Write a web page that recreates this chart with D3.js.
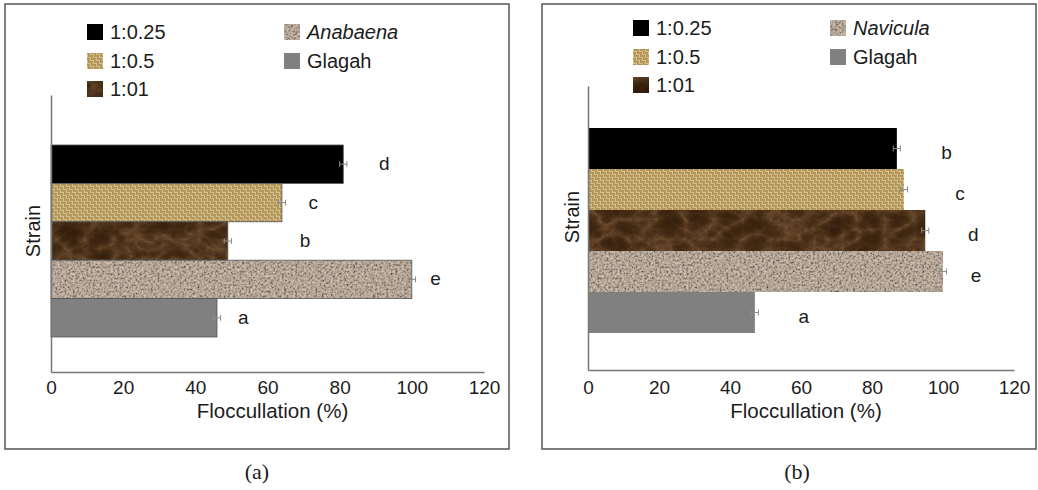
<!DOCTYPE html>
<html>
<head>
<meta charset="utf-8">
<script src="https://cdn.jsdelivr.net/npm/d3@7/dist/d3.min.js"></script>
<style>
    body { margin: 0; background: #fff; }
    svg { display: block; }
    text { font-family: "Liberation Sans", Arial, sans-serif; fill: #1c1c1c; }
</style>
</head>
<body>
<div id="chart"></div>
<script>
// values
let xTicks = [0, 20, 40, 60, 80, 100, 120];
let ratios = ['1:0.25', '1:0.5', '1:01'];

let strainsA = ['1:0.25', '1:0.5', '1:01', 'Anabaena', 'Glagah'];
let flocA = [81, 64, 49, 100, 46];
let errA = [1, 1, 1, 1, 1];
let lettersA = ['d', 'c', 'b', 'e', 'a'];

let strainsB = ['1:0.25', '1:0.5', '1:01', 'Navicula', 'Glagah'];
let flocB = [87, 89, 95, 100, 47];
let errB = [1, 1, 1, 1, 1];
let lettersB = ['b', 'c', 'd', 'e', 'a'];

// where the significance letters sit, in flocculation units
let letterAtA = [92.4, 72.7, 70.4, 106.6, 53.3];
let letterAtB = [101, 104.8, 108.5, 109.3, 60.8];

let panels = [
    {
        strains: strainsA, values: flocA, errors: errA, letters: lettersA, letterAt: letterAtA,
        frame: [5, 4, 509, 449], x0: 51, x1: 484, axisY: 372, yTop: 95,
        barTop: 145, barBottom: 337, letterDy: 6, outline: '#555',
        legendX: [87, 284], legendY: [32, 61, 89], strainAt: [33, 231],
        caption: '(a)', captionX: 257
    },
    {
        strains: strainsB, values: flocB, errors: errB, letters: lettersB, letterAt: letterAtB,
        frame: [542, 4, 1036, 449], x0: 588, x1: 1014, axisY: 370, yTop: 86,
        barTop: 128, barBottom: 333, letterDy: 10, outline: 'none',
        legendX: [633, 830], legendY: [28, 57, 85], strainAt: [572, 217],
        caption: '(b)', captionX: 797
    }
];

let svg = d3.select('#chart').append('svg')
    .attr('width', 1038)
    .attr('height', 490);

svg.append('rect').attr('width', 1038).attr('height', 490).attr('fill', '#fff');

// textures: burlap weave, brown marble, granite speckle
let defs = svg.append('defs');

let burlap = defs.append('pattern')
    .attr('id', 'burlap')
    .attr('patternUnits', 'userSpaceOnUse')
    .attr('width', 6).attr('height', 6);
burlap.append('rect').attr('width', 6).attr('height', 6).attr('fill', '#6f5526');
[[0, 0, 'h'], [3, 0, 'v'], [0, 3, 'v'], [3, 3, 'h']].forEach(cell => {
    for (let k = 0; k < 2; k++) {
        let o = k * 1.5 + 0.2;
        burlap.append('rect')
            .attr('x', cell[2] === 'h' ? cell[0] : cell[0] + o)
            .attr('y', cell[2] === 'h' ? cell[1] + o : cell[1])
            .attr('width', cell[2] === 'h' ? 3 : 1.2)
            .attr('height', cell[2] === 'h' ? 1.2 : 3)
            .attr('fill', k === 0 ? '#eed9a2' : '#c3a463');
    }
});

function noiseFilter(id, type, freq, octaves, seed, tables) {
    let f = defs.append('filter')
        .attr('id', id)
        .attr('color-interpolation-filters', 'sRGB')
        .attr('x', 0).attr('y', 0).attr('width', 1).attr('height', 1);
    f.append('feTurbulence')
        .attr('type', type)
        .attr('baseFrequency', freq)
        .attr('numOctaves', octaves)
        .attr('seed', seed)
        .attr('result', 'noise');
    f.append('feColorMatrix')
        .attr('type', 'matrix')
        .attr('values', '1 0 0 0 0  1 0 0 0 0  1 0 0 0 0  0 0 0 0 1');
    let ct = f.append('feComponentTransfer');
    ['R', 'G', 'B'].forEach((c, i) => {
        ct.append('feFunc' + c).attr('type', 'table').attr('tableValues', tables[i]);
    });
    f.append('feComposite').attr('in2', 'SourceGraphic').attr('operator', 'in');
}

noiseFilter('granite', 'fractalNoise', 0.45, 3, 4, [
    '0.2 0.36 0.58 0.71 0.78 0.85 0.91',
    '0.18 0.32 0.53 0.65 0.72 0.79 0.85',
    '0.16 0.29 0.48 0.59 0.66 0.73 0.79'
]);
noiseFilter('marble', 'turbulence', '0.035 0.05', 4, 9, [
    '0.44 0.34 0.27 0.23 0.2 0.18',
    '0.32 0.23 0.17 0.14 0.11 0.1',
    '0.2 0.13 0.08 0.06 0.05 0.04'
]);

function styleSwatch(sel, i) {
    let fills = ['#000', 'url(#burlap)', '#4a2f18', '#b0a090', '#808080'];
    let filters = [null, null, 'url(#marble)', 'url(#granite)', null];
    sel.attr('fill', fills[i]);
    if (filters[i]) sel.attr('filter', filters[i]);
}

function drawPanel(p) {
    let g = svg.append('g');

    g.append('rect')
        .attr('x', p.frame[0]).attr('y', p.frame[1])
        .attr('width', p.frame[2] - p.frame[0])
        .attr('height', p.frame[3] - p.frame[1])
        .attr('fill', 'none')
        .attr('stroke', '#555')
        .attr('stroke-width', 1.5);

    let x = d3.scaleLinear().domain([0, 120]).range([p.x0, p.x1]);
    let y = d3.scaleBand().domain(p.strains).range([p.barTop, p.barBottom]).padding(0);

    // bars
    p.strains.forEach((s, i) => {
        let r = g.append('rect')
            .attr('x', x(0))
            .attr('y', y(s))
            .attr('width', x(p.values[i]) - x(0))
            .attr('height', y.bandwidth());
        styleSwatch(r, i);
        if (p.outline !== 'none') {
            g.append('rect')
                .attr('x', x(0))
                .attr('y', y(s))
                .attr('width', x(p.values[i]) - x(0))
                .attr('height', y.bandwidth())
                .attr('fill', 'none')
                .attr('stroke', p.outline)
                .attr('stroke-width', 0.8);
        }
    });

    // error bars
    p.strains.forEach((s, i) => {
        let cy = y(s) + y.bandwidth() / 2;
        let lo = x(p.values[i] - p.errors[i]), hi = x(p.values[i] + p.errors[i]);
        let eb = g.append('g').attr('stroke', '#8a8a8a').attr('stroke-width', 1);
        eb.append('line').attr('x1', lo).attr('x2', hi).attr('y1', cy).attr('y2', cy);
        eb.append('line').attr('x1', lo).attr('x2', lo).attr('y1', cy - 3).attr('y2', cy + 3);
        eb.append('line').attr('x1', hi).attr('x2', hi).attr('y1', cy - 3).attr('y2', cy + 3);
    });

    // significance letters
    g.selectAll('text.letter')
        .data(p.letters)
        .enter().append('text')
        .attr('class', 'letter')
        .attr('x', (d, i) => x(p.letterAt[i]))
        .attr('y', (d, i) => y(p.strains[i]) + y.bandwidth() / 2 + p.letterDy)
        .attr('text-anchor', 'middle')
        .style('font-size', '19px')
        .text(d => d);

    // x axis
    let xAxis = g.append('g')
        .attr('transform', 'translate(0,' + p.axisY + ')')
        .call(d3.axisBottom(x).tickValues(xTicks).tickSize(0).tickPadding(394 - p.axisY - 13.5));
    xAxis.select('.domain').attr('stroke', '#777').attr('stroke-width', 1.5);
    xAxis.selectAll('text')
        .style('font-size', '19px')
        .style('font-family', '"Liberation Sans", Arial, sans-serif')
        .attr('fill', '#1c1c1c');

    // y axis, no ticks
    let yLine = d3.scaleLinear().range([p.axisY, p.yTop]);
    let yAxis = g.append('g')
        .attr('transform', 'translate(' + p.x0 + ',0)')
        .call(d3.axisLeft(yLine).ticks(0).tickSizeOuter(0));
    yAxis.select('.domain').attr('stroke', '#777').attr('stroke-width', 1.5);

    g.append('text')
        .attr('x', (p.x0 + p.x1) / 2 + 5)
        .attr('y', 418)
        .attr('text-anchor', 'middle')
        .style('font-size', '20.5px')
        .text('Floccullation (%)');

    g.append('text')
        .attr('transform', 'translate(' + (p.strainAt[0] + 7) + ',' + p.strainAt[1] + ') rotate(-90)')
        .attr('text-anchor', 'middle')
        .style('font-size', '20px')
        .text('Strain');

    // legend: ratios in the first column, species and Glagah in the second
    p.strains.forEach((s, i) => {
        let col = i < 3 ? 0 : 1;
        let row = i < 3 ? i : i - 3;
        let lx = p.legendX[col], ly = p.legendY[row];
        let sw = g.append('rect')
            .attr('x', lx).attr('y', ly - 8)
            .attr('width', 16).attr('height', 16);
        styleSwatch(sw, i);
        let t = g.append('text')
            .attr('x', lx + 23)
            .attr('y', ly + 7)
            .style('font-size', '20px')
            .text(s);
        if (i === 3) t.style('font-style', 'italic');
    });

    g.append('text')
        .attr('x', p.captionX)
        .attr('y', 479)
        .attr('text-anchor', 'middle')
        .style('font-family', '"Liberation Serif", "Times New Roman", serif')
        .style('font-size', '22px')
        .text(p.caption);
}

panels.forEach(drawPanel);
</script>
</body>
</html>
